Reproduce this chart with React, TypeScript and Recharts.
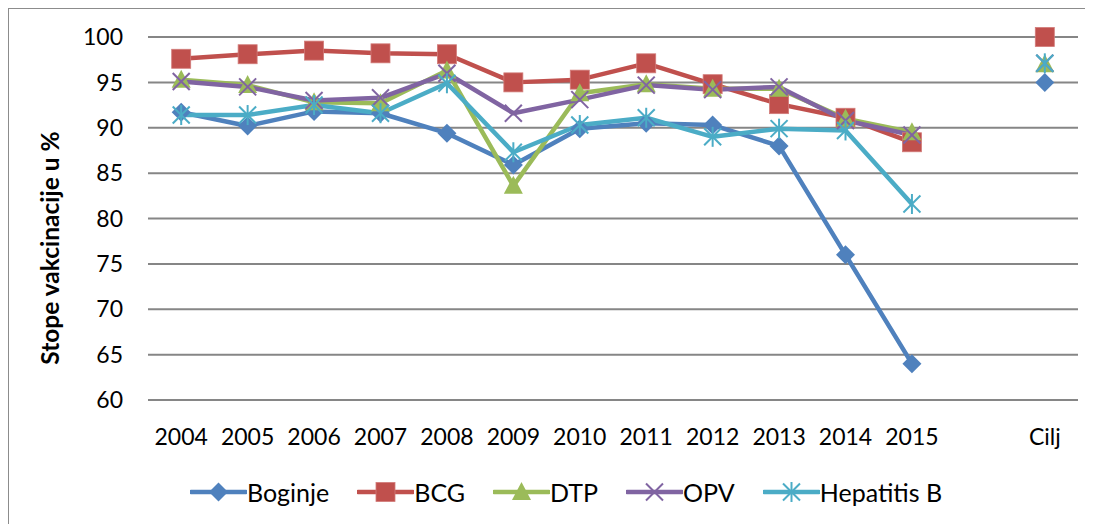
import React from 'react';
import { LineChart, Line, XAxis, YAxis, CartesianGrid } from 'recharts';

const categories = ['2004', '2005', '2006', '2007', '2008', '2009', '2010', '2011', '2012', '2013', '2014', '2015', '', 'Cilj'];
const boginje = [91.7, 90.2, 91.8, 91.6, 89.4, 85.9, 89.9, 90.5, 90.3, 88.0, 76.0, 64.0, null, 95.0];
const bcg = [97.6, 98.1, 98.5, 98.2, 98.1, 95.0, 95.3, 97.1, 94.8, 92.6, 91.1, 88.4, null, 100];
const dtp = [95.3, 94.7, 92.8, 92.7, 96.3, 83.6, 93.8, 94.8, 94.3, 94.3, 91.0, 89.5, null, 97.0];
const opv = [95.1, 94.5, 93.0, 93.3, 96.0, 91.6, 93.1, 94.7, 94.2, 94.5, 90.8, 89.2, null, 97.1];
const hepB = [91.4, 91.4, 92.5, 91.6, 94.9, 87.3, 90.3, 91.1, 89.0, 89.9, 89.7, 81.6, null, 97.1];
const yTicks = [60, 65, 70, 75, 80, 85, 90, 95, 100];

const FONT = 'Lato, "Liberation Sans", sans-serif';

type Shape = 'diamond' | 'square' | 'triangle' | 'x' | 'star';

const series: { key: string; name: string; color: string; shape: Shape; values: (number | null)[] }[] = [
  { key: 'boginje', name: 'Boginje', color: '#4F81BD', shape: 'diamond', values: boginje },
  { key: 'bcg', name: 'BCG', color: '#C0504D', shape: 'square', values: bcg },
  { key: 'dtp', name: 'DTP', color: '#9BBB59', shape: 'triangle', values: dtp },
  { key: 'opv', name: 'OPV', color: '#8064A2', shape: 'x', values: opv },
  { key: 'hepB', name: 'Hepatitis B', color: '#4BACC6', shape: 'star', values: hepB },
];

const data = categories.map((c, i) => {
  const row: Record<string, string | number | null> = { cat: c };
  series.forEach((s) => {
    row[s.key] = s.values[i];
  });
  return row;
});

function Marker({ shape, color, cx, cy }: { shape: Shape; color: string; cx: number; cy: number }) {
  switch (shape) {
    case 'diamond':
      return <polygon points={`${cx},${cy - 9.5} ${cx + 9.5},${cy} ${cx},${cy + 9.5} ${cx - 9.5},${cy}`} fill={color} />;
    case 'square':
      return <rect x={cx - 9.5} y={cy - 9.5} width={19} height={19} fill={color} stroke="#d27b79" strokeWidth={0.8} />;
    case 'triangle':
      return <polygon points={`${cx},${cy - 10} ${cx + 9.5},${cy + 8} ${cx - 9.5},${cy + 8}`} fill={color} />;
    case 'x':
      return (
        <g stroke={color} strokeWidth={2}>
          <line x1={cx - 8.5} y1={cy - 8.5} x2={cx + 8.5} y2={cy + 8.5} />
          <line x1={cx - 8.5} y1={cy + 8.5} x2={cx + 8.5} y2={cy - 8.5} />
        </g>
      );
    case 'star':
    default:
      return (
        <g stroke={color} strokeWidth={2}>
          <line x1={cx - 8.5} y1={cy - 8.5} x2={cx + 8.5} y2={cy + 8.5} />
          <line x1={cx - 8.5} y1={cy + 8.5} x2={cx + 8.5} y2={cy - 8.5} />
          <line x1={cx} y1={cy - 10} x2={cx} y2={cy + 10} />
        </g>
      );
  }
}

const makeDot = (shape: Shape, color: string) => (props: any) => {
  const { cx, cy, key, index } = props;
  const k = key ?? `${shape}-${index}`;
  if (cx == null || cy == null || props.value == null || Number.isNaN(cx) || Number.isNaN(cy)) {
    return <g key={k} />;
  }
  return (
    <g key={k}>
      <Marker shape={shape} color={color} cx={cx} cy={cy} />
    </g>
  );
};

const YLabel = () => (
  <text
    x={40}
    y={239}
    transform="rotate(-90 40 239)"
    textAnchor="middle"
    dominantBaseline="central"
    fontFamily={FONT}
    fontWeight={700}
    fontSize={24.5}
    fill="#000"
  >
    Stope vakcinacije u %
  </text>
);

export default function App() {
  const W = 1113;
  const H = 515;
  return (
    <div style={{ position: 'relative' }}>
      <div
        style={{
          position: 'absolute',
          left: 7,
          top: -24,
          fontFamily: FONT,
          fontWeight: 700,
          fontSize: 20,
          lineHeight: '20px',
          color: '#365F91',
          whiteSpace: 'nowrap',
        }}
      >
        Slika 5: Stope vakcinacije po godinama 2004-2015
      </div>
      <div
        style={{
          position: 'relative',
          width: 1084,
          height: 515,
          borderTop: '1px solid #8c8c8c',
          borderLeft: '1px solid #8c8c8c',
          overflow: 'hidden',
          background: '#fff',
        }}
      >
        <LineChart width={W} height={H} data={data} margin={{ top: 28, right: W - 1069, bottom: 64, left: 0 }}>
          <CartesianGrid vertical={false} stroke="#868686" strokeWidth={2} />
          <XAxis
            dataKey="cat"
            axisLine={false}
            tickLine={false}
            tickSize={0}
            tickMargin={29}
            height={60}
            interval={0}
            padding={{ left: 33.2, right: 33.2 }}
            tick={{ fontFamily: FONT, fontSize: 23, fill: '#000' }}
          />
          <YAxis
            domain={[60, 100]}
            ticks={yTicks}
            interval={0}
            width={139}
            axisLine={false}
            tickLine={false}
            tickSize={0}
            tickMargin={25}
            tick={{ fontFamily: FONT, fontSize: 23, fill: '#000' }}
            label={{ content: () => <YLabel /> }}
          />
          {series.map((s) => (
            <Line
              key={s.key}
              dataKey={s.key}
              name={s.name}
              stroke={s.color}
              strokeWidth={4.5}
              strokeLinejoin="round"
              isAnimationActive={false}
              connectNulls={false}
              dot={makeDot(s.shape, s.color)}
              activeDot={false}
            />
          ))}
        </LineChart>
        <div
          style={{
            position: 'absolute',
            left: 181,
            top: 471,
            height: 24,
            display: 'flex',
            alignItems: 'center',
            fontFamily: FONT,
            fontSize: 25,
            color: '#000',
            whiteSpace: 'nowrap',
          }}
        >
          {series.map((s, i) => (
            <div key={s.key} style={{ display: 'flex', alignItems: 'center', marginLeft: i === 0 ? 0 : 28 }}>
              <svg width={57} height={24} style={{ display: 'block' }}>
                <line x1={1} y1={12} x2={56} y2={12} stroke={s.color} strokeWidth={4.5} strokeLinecap="round" />
                <Marker shape={s.shape} color={s.color} cx={28.5} cy={12} />
              </svg>
              <span style={{ lineHeight: '24px' }}>{s.name}</span>
            </div>
          ))}
        </div>
      </div>
    </div>
  );
}
